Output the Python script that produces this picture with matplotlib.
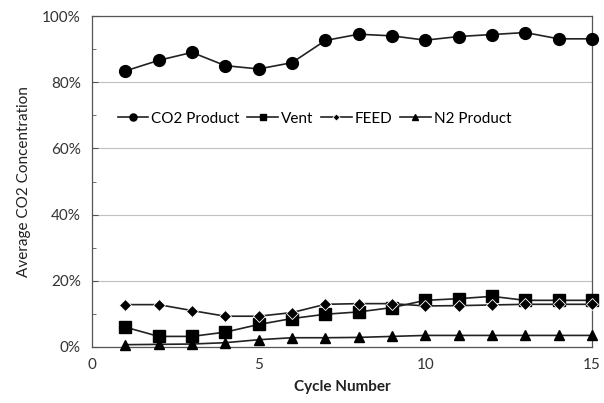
import matplotlib
matplotlib.use("Agg")
import matplotlib.pyplot as plt
from matplotlib.ticker import MultipleLocator, FuncFormatter

plt.rcParams['font.family'] = ['Lato', 'DejaVu Sans']

cycles = list(range(1, 16))
co2_product = [83.4, 86.6, 89.0, 85.0, 84.0, 85.9, 92.6, 94.5, 94.0, 92.7, 93.8, 94.4, 95.0, 93.1, 93.1]
vent = [6.0, 3.2, 3.2, 4.5, 6.8, 8.6, 9.9, 10.6, 11.9, 14.1, 14.6, 15.3, 14.1, 14.1, 14.1]
feed = [12.8, 12.8, 11.0, 9.3, 9.3, 10.4, 12.9, 13.1, 13.1, 12.4, 12.5, 12.7, 12.9, 12.9, 12.9]
n2_product = [0.7, 0.8, 0.9, 1.3, 2.2, 2.8, 2.8, 2.9, 3.2, 3.5, 3.5, 3.5, 3.5, 3.5, 3.5]
labels = ["CO2 Product", "Vent", "FEED", "N2 Product"]

fig = plt.figure(figsize=(6.04, 4.03), dpi=100)
ax = fig.add_axes([92/604, 1-347/403, 500/604, 331/403])

lc = '#222222'
ax.plot(cycles, co2_product, '-', color=lc, lw=1.2, marker='o', ms=8.5, mfc='black', mec='black', label=labels[0], zorder=3, clip_on=False)
ax.plot(cycles, vent, '-', color=lc, lw=1.2, marker='s', ms=8, mfc='black', mec='black', label=labels[1], zorder=3, clip_on=False)
ax.plot(cycles, feed, '-', color=lc, lw=1.2, marker='D', ms=6, mfc='black', mec='white', mew=0.6, label=labels[2], zorder=4, clip_on=False)
ax.plot(cycles, n2_product, '-', color=lc, lw=1.2, marker='^', ms=7, mfc='black', mec='black', label=labels[3], zorder=3, clip_on=False)

ax.set_xlim(0, 15)
ax.set_ylim(0, 100)
ax.xaxis.set_major_locator(MultipleLocator(5))
ax.yaxis.set_major_locator(MultipleLocator(20))
ax.yaxis.set_minor_locator(MultipleLocator(10))
ax.yaxis.set_major_formatter(FuncFormatter(lambda v, p: f"{int(v)}%"))
ax.grid(axis='y', which='major', color='#c0c0c0', lw=0.8)
ax.set_axisbelow(True)
for s in ax.spines.values():
    s.set_color('#555555')
    s.set_linewidth(0.9)
ax.tick_params(axis='both', which='both', direction='in', colors='#555555', labelcolor='#333333', labelsize=11)
ax.tick_params(axis='y', which='major', length=4, pad=8)
ax.tick_params(axis='y', which='minor', length=3)
ax.tick_params(axis='x', length=0, pad=8)

ax.set_xlabel("Cycle Number", fontsize=11, fontweight='bold', color='#222222', labelpad=6)
ax.set_ylabel("Average CO2 Concentration", fontsize=11, color='#222222', labelpad=8)

ax.legend(loc='center', bbox_to_anchor=(0.445, 0.69), ncol=4, frameon=False, fontsize=11,
          handlelength=2.0, handletextpad=0.2, columnspacing=0.5, markerscale=0.6)

fig.savefig("out.png", dpi=100)
